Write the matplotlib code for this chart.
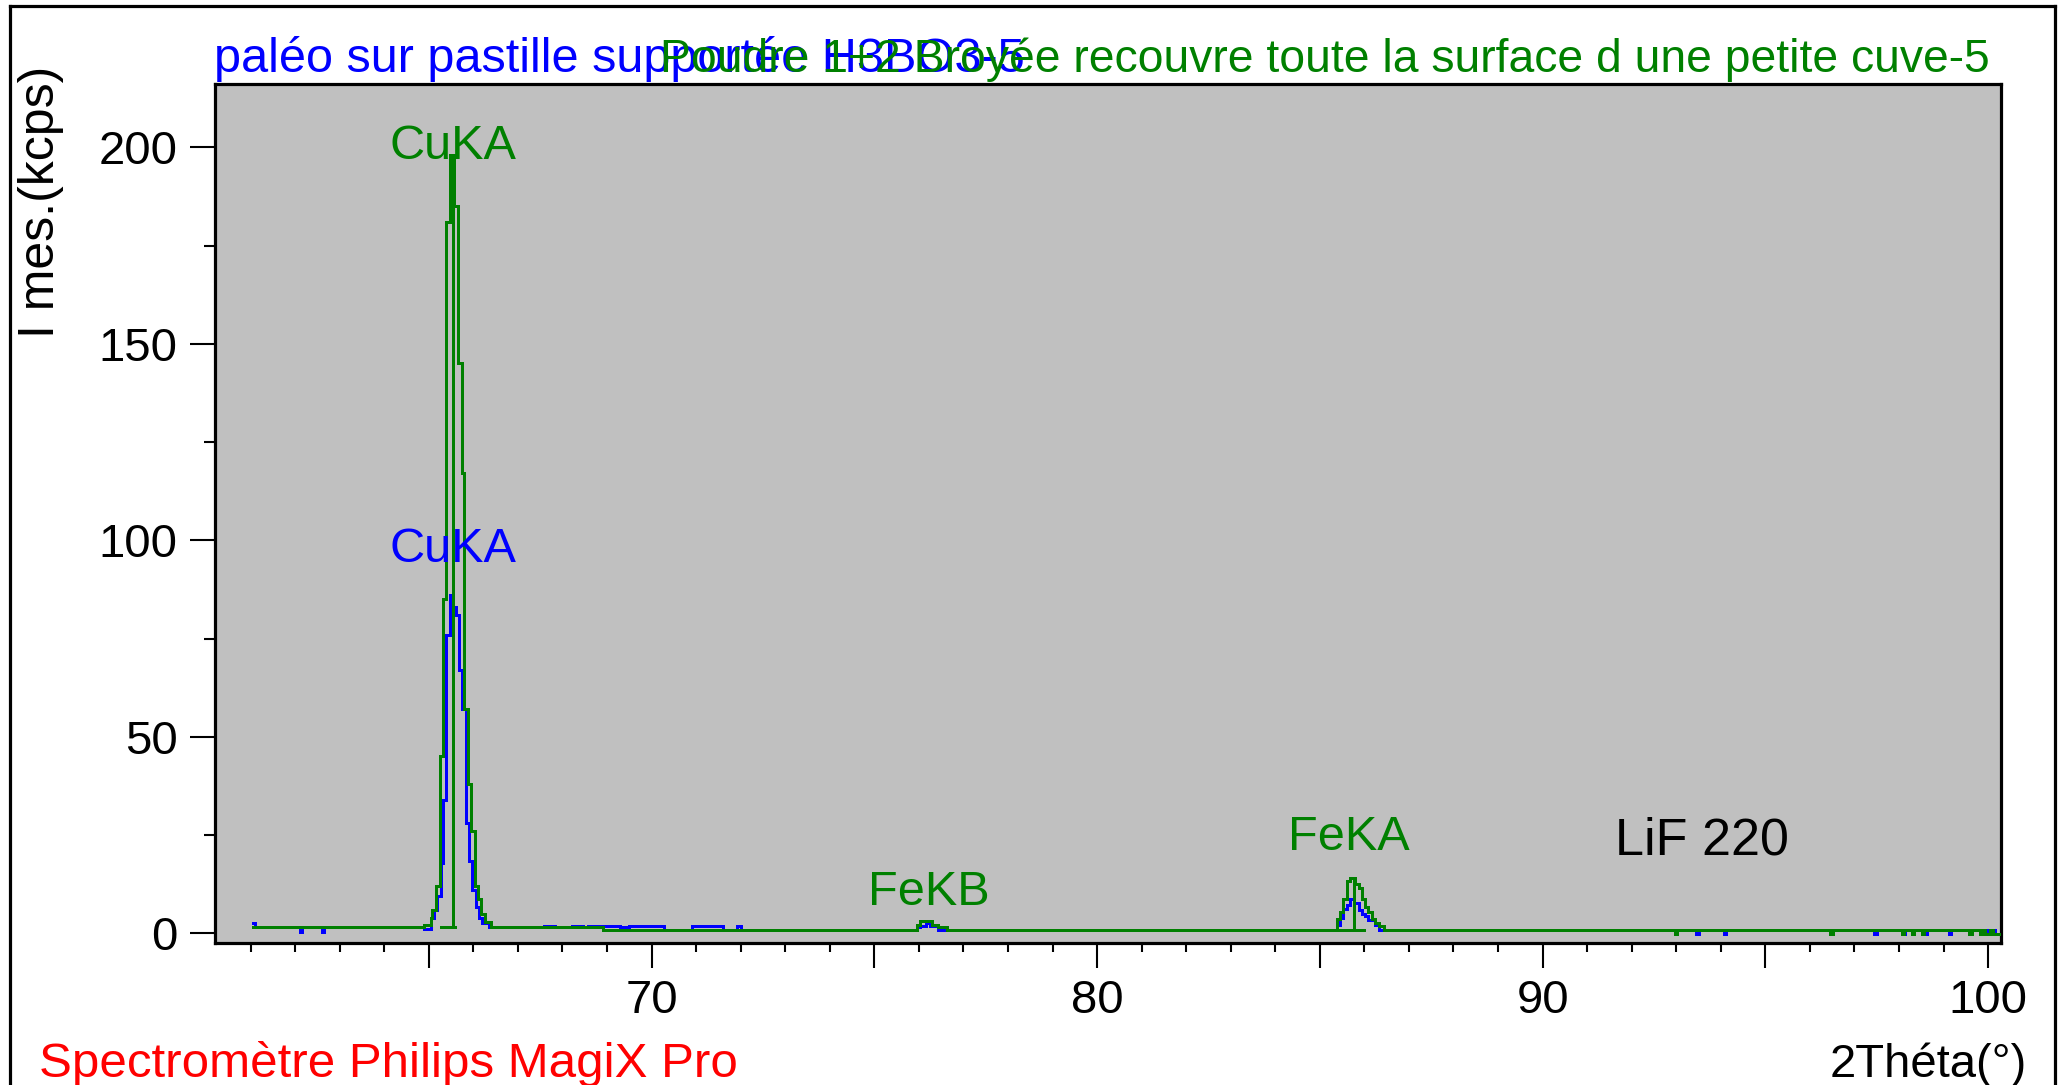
import numpy as np
import matplotlib
matplotlib.use("Agg")
from matplotlib import pyplot as plt
from matplotlib.lines import Line2D

# two XRF scans, LiF 220 crystal -- step values (start of each step), kcps
titre_bleu = "paléo sur pastille supportée H3BO3-5"
titre_vert = "Poudre 1+2 Broyée recouvre toute la surface d une petite cuve-5"

theta_bleu = [61.05, 61.10, 62.10, 62.15, 62.60, 62.65, 64.89, 65.04, 65.12,
              65.19, 65.27, 65.32, 65.38, 65.47, 65.55, 65.60, 65.68, 65.75,
              65.83, 65.90, 65.98, 66.05, 66.13, 66.20, 66.35, 67.59, 67.83,
              68.22, 68.46, 68.58, 69.30, 69.50, 70.27, 70.90, 71.61, 71.92,
              72.00, 75.95, 76.02, 76.17, 76.24, 76.43, 85.39, 85.46, 85.53,
              85.61, 85.68, 85.77, 85.89, 85.95, 86.02, 86.08, 86.24, 86.32,
              93.45, 93.50, 94.07, 94.12, 97.45, 97.50, 98.09, 98.14, 98.59,
              98.64, 99.12, 99.17, 99.96, 100.01, 100.15, 100.29]
kcps_bleu = [2.5, 1.5, 0.4, 1.5, 0.4, 1.5, 1.2, 3.8, 6.0,
             9.5, 18.0, 34.0, 76.0, 86.0, 83.0, 81.0, 67.0, 57.0,
             28.0, 18.5, 11.0, 6.6, 3.8, 2.5, 1.5, 1.9, 1.5,
             1.9, 1.5, 1.9, 1.5, 1.9, 0.85, 1.9, 0.85, 1.9,
             0.85, 1.5, 1.9, 2.6, 1.9, 0.85, 2.0, 4.0, 6.2,
             7.2, 8.7, 7.6, 6.0, 5.0, 4.3, 3.4, 2.2, 0.85,
             -0.3, 0.85, -0.3, 0.85, -0.3, 0.85, -0.3, 0.85, -0.3,
             0.85, -0.3, 0.85, -0.3, 0.85, -0.3, -0.3]

theta_vert = [61.05, 64.89, 65.04, 65.08, 65.15, 65.25, 65.31, 65.38, 65.47,
              65.56, 65.65, 65.74, 65.80, 65.88, 65.95, 66.03, 66.10, 66.18,
              66.25, 66.39, 68.90, 75.95, 76.02, 76.30, 76.43, 76.63, 85.39,
              85.46, 85.53, 85.61, 85.68, 85.80, 85.89, 85.95, 86.02, 86.08,
              86.17, 86.24, 86.32, 86.43, 92.97, 93.02, 96.46, 96.51, 98.06,
              98.11, 98.29, 98.34, 98.52, 98.57, 99.58, 99.63, 99.81, 99.86,
              99.93, 100.04, 100.10, 100.29]
kcps_vert = [1.5, 2.2, 3.9, 6.0, 12.0, 45.0, 85.0, 181.0, 198.0,
             185.0, 145.0, 117.0, 57.0, 38.0, 26.0, 12.0, 8.6, 5.0,
             3.0, 1.5, 0.85, 2.0, 3.2, 2.2, 1.5, 0.85, 3.6,
             5.3, 8.6, 13.3, 14.1, 12.6, 11.6, 8.6, 6.7, 5.3,
             3.6, 2.7, 1.9, 0.85, -0.3, 0.85, -0.3, 0.85, -0.3,
             0.85, -0.3, 0.85, -0.3, 0.85, -0.3, 0.85, -0.3, 0.85,
             -0.3, 0.85, -0.3, -0.3]

# peak markers of the green scan: position, top, foot
repere_theta = [65.55, 85.77]
repere_haut = [198.0, 14.1]
repere_bas = [1.5, 0.85]
repere_de = [65.25, 85.39]
repere_a = [65.62, 86.02]

raies = ["CuKA", "CuKA", "FeKB", "FeKA"]
raies_theta = [65.55, 65.55, 76.22, 85.64]
raies_y = [197.0, 94.5, 7.1, 21.1]
raies_couleur = ["#008000", "#0000ff", "#008000", "#008000"]

x_graduees = [70, 80, 90, 100]
y_graduees = [0, 50, 100, 150, 200]

W, H = 2063, 1085
FONT = ["Liberation Sans", "DejaVu Sans"]
plt.rcParams["font.family"] = FONT

fig = plt.figure(figsize=(W / 100, H / 100), dpi=100)
ax = fig.add_axes([215 / W, 1 - 943 / H, (2001 - 215) / W, (943 - 84) / H])
ax.set_facecolor("#c0c0c0")

ax.plot(theta_bleu, kcps_bleu, drawstyle="steps-post", color="#0000ff",
        lw=2.0, antialiased=False, zorder=2)
ax.plot(theta_vert, kcps_vert, drawstyle="steps-post", color="#008000",
        lw=2.0, antialiased=False, zorder=3)
ax.vlines(repere_theta, repere_bas, repere_haut, color="#008000", lw=2.0,
          antialiased=False, zorder=3)
ax.hlines(repere_bas, repere_de, repere_a, color="#008000", lw=2.0,
          antialiased=False, zorder=3)

for nom, xt, yt, c in zip(raies, raies_theta, raies_y, raies_couleur):
    ax.text(xt, yt, nom, color=c, fontsize=35, ha="center", va="baseline",
            zorder=4)
ax.text(91.63, 20.1, "LiF 220", color="black", fontsize=37.5,
        ha="left", va="baseline")

ax.set_xlim(60.2, 100.29)
ax.set_ylim(-2.47, 216.1)

xmaj = np.arange(65, 101, 5)
ax.set_xticks(xmaj)
ax.set_xticklabels([str(v) if v in x_graduees else "" for v in xmaj])
ax.set_xticks(np.arange(61, 100, 1), minor=True)
ax.set_yticks(y_graduees)
ax.set_yticklabels([str(v) for v in y_graduees])
ax.set_yticks([25, 75, 125, 175], minor=True)

ax.tick_params(axis="x", which="major", length=18, width=1.5, pad=8,
               labelsize=34)
ax.tick_params(axis="x", which="minor", length=6.5, width=1.5)
ax.tick_params(axis="y", which="major", length=18, width=1.5, pad=9,
               labelsize=34)
ax.tick_params(axis="y", which="minor", length=8, width=1.5)
for s in ax.spines.values():
    s.set_linewidth(2.3)

# titles and labels around the frame
fig.text(214 / W, 1 - 72 / H, titre_bleu, color="#0000ff", fontsize=35,
         ha="left", va="baseline")
fig.text(660 / W, 1 - 72 / H, titre_vert, color="#008000", fontsize=33.3,
         ha="left", va="baseline")
fig.text(41 / W, 1 - 66 / H, "I mes.(kcps)", rotation=90, fontsize=36,
         ha="center", va="top")
fig.text(2027 / W, 1 - 1077 / H, "2Théta(°)", fontsize=34, ha="right",
         va="baseline")
fig.text(39 / W, 1 - 1077 / H, "Spectromètre Philips MagiX Pro",
         color="#ff0000", fontsize=35.5, ha="left", va="baseline")

# outer frame (bottom edge falls outside the picture)
cadre = dict(color="black", lw=2.3, transform=fig.transFigure)
fig.add_artist(Line2D([10 / W, 10 / W], [0, 1 - 6 / H], **cadre))
fig.add_artist(Line2D([10 / W, 2055 / W], [1 - 6 / H, 1 - 6 / H], **cadre))
fig.add_artist(Line2D([2055 / W, 2055 / W], [0, 1 - 6 / H], **cadre))

fig.savefig("out.png", dpi=100, facecolor="white")
